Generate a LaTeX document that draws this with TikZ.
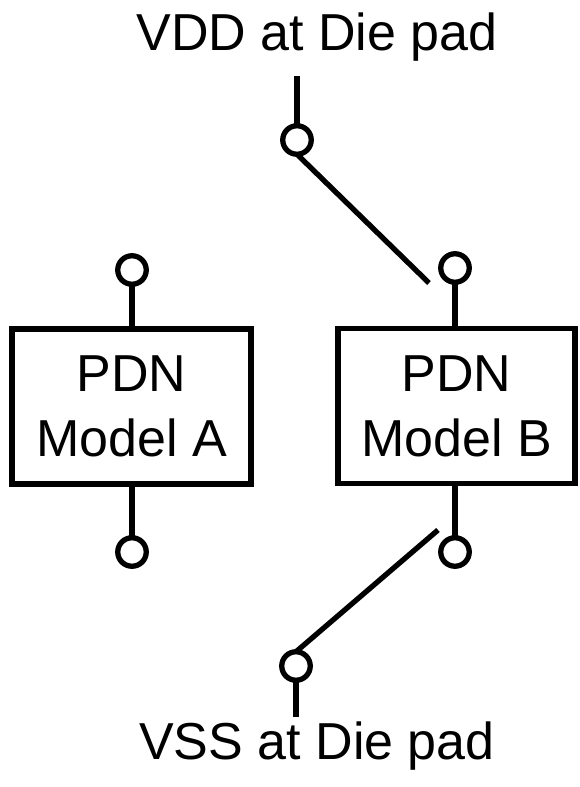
\documentclass[tikz,border=0pt]{standalone}
\usepackage{fontspec}
\setmainfont{Liberation Sans}
\begin{document}
\begin{tikzpicture}[x=1pt,y=-1pt,
  wire/.style={line width=5.3pt},
  term/.style={circle,draw,line width=5.3pt,minimum size=28.5pt,inner sep=0pt,outer sep=0pt},
  pdnbox/.style={rectangle,draw,line width=5.3pt,minimum height=155pt,align=center,inner sep=0pt,outer sep=0pt,font=\fontsize{52}{65}\selectfont},
  lbl/.style={anchor=base,inner sep=0pt,font=\fontsize{52}{62}\selectfont}]
\useasboundingbox (0,0) rectangle (579,787);
% labels
\node[lbl] (vdd) at (317,50) {VDD at Die pad};
\node[lbl] (vss) at (317,759) {VSS at Die pad};
% boxes
\node[pdnbox,minimum width=239pt] (A) at (131.5,406.5) {PDN\\Model A};
\node[pdnbox,minimum width=237pt] (B) at (456.5,406) {PDN\\Model B};
% terminals
\node[term] (At) at (132,270) {};
\node[term] (Ab) at (132,552) {};
\node[term] (Bt) at (455,268) {};
\node[term] (Bb) at (455,552) {};
\node[term] (Vt) at (297,140) {};
\node[term] (Vb) at (296,666) {};
% free ends
\coordinate (vddend) at (297,76);
\coordinate (vssend) at (296,717);
\coordinate (swtop) at (429,283);
\coordinate (swbot) at (438,530);
% wires
\draw[wire] (At.south) -- (At.south |- A.north);
\draw[wire] (Ab.north) -- (Ab.north |- A.south);
\draw[wire] (Bt.south) -- (Bt.south |- B.north);
\draw[wire] (Bb.north) -- (Bb.north |- B.south);
\draw[wire] (vddend) -- (Vt.north);
\draw[wire] (Vb.south) -- (vssend);
\draw[wire] (Vt.south) -- (swtop);
\draw[wire] (swbot) -- (Vb.north);
\end{tikzpicture}
\end{document}
